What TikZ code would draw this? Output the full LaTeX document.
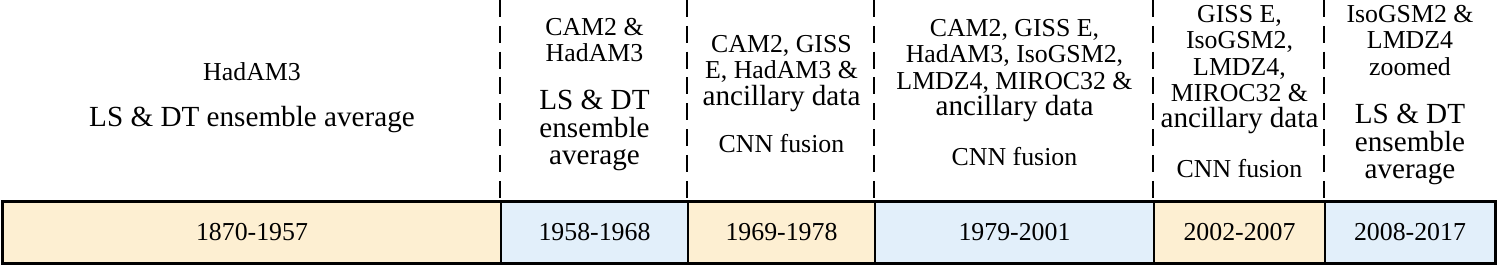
\documentclass[tikz,border=0pt]{standalone}
\usepackage{fontspec}
\setmainfont{Liberation Serif}

\definecolor{warmfill}{RGB}{253,239,210}
\definecolor{coolfill}{RGB}{226,239,250}
\newcommand{\smallsz}{\fontsize{14.7}{15}\selectfont}
\newcommand{\largesz}{\fontsize{16.6}{15.6}\selectfont}

\begin{document}
\begin{tikzpicture}[x=0.02cm, y=-0.02cm,
		period/.style={draw=black, line width=1.1pt, inner sep=0pt, minimum height=1.22cm, font=\smallsz},
		models/.style={anchor=north, align=center, inner sep=0pt, font=\smallsz},
		method/.style={anchor=north, align=center, inner sep=0pt},
		divider/.style={line width=1.1pt, dash pattern=on 9.6pt off 5.1pt}]
		\useasboundingbox (0,0) rectangle (1497,266);
		\coordinate (top) at (0,0);

		% Time periods along the bar
		\foreach \name/\xa/\xb/\fillc/\yr in {p1/3/501/warmfill/1870-1957, p2/501/688/coolfill/1958-1968,
				p3/688/875/warmfill/1969-1978, p4/875/1154/coolfill/1979-2001,
				p5/1154/1325/warmfill/2002-2007, p6/1325/1495/coolfill/2008-2017} {
				\node[period, fill=\fillc, minimum width={(\xb-\xa)*0.02cm}] (\name) at ({(\xa+\xb)/2}, 232.5) {\yr};
			}
		\draw[line width=1.7pt] (p1.north west) rectangle (p6.south east);

		% Dashed separators above the bar
		\foreach \name in {p2,p3,p4,p5,p6} {
				\draw[divider] (\name.north west |- top) -- (\name.north west);
			}

		% Input data for each period
		\node[models] (m1) at (252, 62) {HadAM3};
		\node[models] (m2) at (594.5, 18) {CAM2 \&\\HadAM3};
		\node[models] (m3) at (781.5, 35) {CAM2, GISS\\E, HadAM3 \&\\{\largesz ancillary data}};
		\node[models] (m4) at (1014.5, 19) {CAM2, GISS E,\\HadAM3, IsoGSM2,\\LMDZ4, MIROC32 \&\\{\largesz ancillary data}};
		\node[models] (m5) at (1239.5, 5) {GISS E,\\IsoGSM2,\\LMDZ4,\\MIROC32 \&\\{\largesz ancillary data}};
		\node[models] (m6) at (1410, 5) {IsoGSM2 \&\\LMDZ4\\zoomed};

		% Method used for each period
		\node[method, font=\largesz] (f1) at (252, 106) {LS \& DT ensemble average};
		\node[method, font=\largesz] (f2) at (594.5, 90) {LS \& DT\\ensemble\\average};
		\node[method, font=\smallsz] (f3) at (781.5, 134) {CNN fusion};
		\node[method, font=\smallsz] (f4) at (1014.5, 147) {CNN fusion};
		\node[method, font=\smallsz] (f5) at (1239.5, 159) {CNN fusion};
		\node[method, font=\largesz] (f6) at (1410, 104) {LS \& DT\\ensemble\\average};
	\end{tikzpicture}
\end{document}
